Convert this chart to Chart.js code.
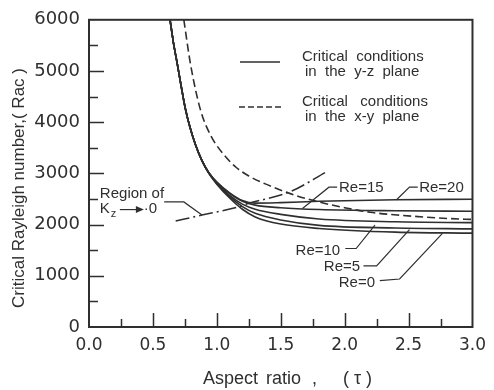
<!DOCTYPE html>
<html>
<head>
<meta charset="utf-8">
<script src="https://cdn.jsdelivr.net/npm/chart.js@4"></script>
<style>
  html, body { margin: 0; padding: 0; background: #fff; }
  #wrap { width: 494px; height: 390px; }
</style>
</head>
<body>
<div id="wrap"><canvas id="chart" width="494" height="390"></canvas></div>
<script>
// aspect ratio (tau) and critical Rayleigh number
let re20Tau = [0.634, 0.66, 0.691, 0.72, 0.755, 0.79, 0.833, 0.88, 0.936, 1.0, 1.1, 1.2, 1.3, 1.5, 1.8, 2.4, 3.0];
let re20Rac = [6000, 5560, 5135, 4720, 4250, 3900, 3560, 3270, 3019, 2830, 2620, 2470, 2420, 2430, 2455, 2485, 2495];

let re15Tau = [0.634, 0.66, 0.691, 0.72, 0.755, 0.79, 0.833, 0.88, 0.936, 1.0, 1.1, 1.2, 1.3, 1.5, 1.8, 2.4, 3.0];
let re15Rac = [6000, 5560, 5135, 4720, 4250, 3900, 3560, 3270, 3019, 2825, 2610, 2455, 2380, 2330, 2295, 2270, 2260];

let re10Tau = [0.634, 0.66, 0.691, 0.72, 0.755, 0.79, 0.833, 0.88, 0.936, 1.0, 1.1, 1.2, 1.3, 1.5, 1.8, 2.4, 3.0];
let re10Rac = [6000, 5560, 5135, 4720, 4250, 3900, 3560, 3270, 3015, 2810, 2570, 2400, 2300, 2200, 2110, 2055, 2038];

let re5Tau = [0.634, 0.66, 0.691, 0.72, 0.755, 0.79, 0.833, 0.88, 0.936, 1.0, 1.1, 1.2, 1.3, 1.5, 1.8, 2.4, 3.0];
let re5Rac = [6000, 5560, 5135, 4720, 4250, 3900, 3560, 3270, 3010, 2800, 2545, 2350, 2220, 2090, 1985, 1935, 1917];

let re0Tau = [0.634, 0.66, 0.691, 0.72, 0.755, 0.79, 0.833, 0.88, 0.936, 1.0, 1.1, 1.2, 1.3, 1.5, 1.8, 2.4, 3.0];
let re0Rac = [6000, 5560, 5135, 4720, 4250, 3900, 3560, 3270, 3005, 2790, 2520, 2300, 2150, 2010, 1925, 1853, 1833];

// critical conditions in the x-y plane (dashed)
let xyTau = [0.742, 0.794, 0.871, 0.95, 1.05, 1.15, 1.25, 1.374, 1.58, 1.786, 2.0, 2.2, 2.45, 2.8, 3.0];
let xyRac = [6000, 5135, 4250, 3750, 3380, 3120, 2950, 2800, 2600, 2450, 2330, 2240, 2180, 2120, 2100];

// region of Kz -> 0 (dash-dot)
let kzTau = [0.678, 0.884, 1.168, 1.245, 1.58, 1.864];
let kzRac = [2071, 2186, 2346, 2410, 2648, 3040];

let yTicks = [0, 1000, 2000, 3000, 4000, 5000, 6000];
let xTicks = [0.0, 0.5, 1.0, 1.5, 2.0, 2.5, 3.0];

let ink = '#2f2f2f';
let sans = '"Liberation Sans", Arial, sans-serif';

function pts(xs, ys) {
    return xs.map(function (v, i) { return { x: v, y: ys[i] }; });
}

function curve(label, xs, ys, dash) {
    return {
        label: label,
        data: pts(xs, ys),
        borderColor: ink,
        borderWidth: 1.6,
        borderDash: dash || [],
        pointRadius: 0,
        fill: false,
        cubicInterpolationMode: 'monotone'
    };
}

// text notes with leader lines, in data units
let notes = [
    { text: 'Re=15', at: [1.956, 2712], path: [[1.941, 2731], [1.877, 2731], [1.670, 2313]] },
    { text: 'Re=20', at: [2.583, 2712], path: [[2.572, 2731], [2.507, 2731], [2.404, 2480]] },
    { text: 'Re=10', at: [1.616, 1494], path: [[2.005, 1533], [2.090, 1533], [2.237, 1990]] },
    { text: 'Re=5', at: [1.837, 1173], path: [[2.147, 1192], [2.250, 1192], [2.507, 1900]] },
    { text: 'Re=0', at: [1.954, 871], path: [[2.275, 904], [2.430, 937], [2.765, 1830]] },
    { text: 'Region of', at: [0.085, 2596], path: [[0.588, 2442], [0.742, 2442], [0.884, 2186]] }
];

let decor = {
    id: 'decor',
    afterDraw: function (chart) {
        let ctx = chart.ctx;
        let a = chart.chartArea;
        let xs = chart.scales.x, ys = chart.scales.y;
        ctx.save();
        ctx.strokeStyle = ink;
        ctx.fillStyle = ink;

        // frame
        ctx.lineWidth = 2;
        ctx.strokeRect(a.left, a.top, a.right - a.left, a.bottom - a.top);

        // inward ticks
        ctx.lineWidth = 1.5;
        ctx.beginPath();
        for (let v = 500; v < 6000; v += 500) {
            let py = Math.round(ys.getPixelForValue(v)) + 0.5;
            let len = v % 1000 === 0 ? 15 : 9;
            ctx.moveTo(a.left, py);
            ctx.lineTo(a.left + len, py);
        }
        for (let k = 1; k < 12; k++) {
            let v = k * 0.25;
            let px = Math.round(xs.getPixelForValue(v)) + 0.5;
            let len = k % 2 === 0 ? 14 : 8;
            ctx.moveTo(px, a.bottom);
            ctx.lineTo(px, a.bottom - len);
        }
        ctx.stroke();

        // notes
        ctx.font = '15px ' + sans;
        ctx.textBaseline = 'middle';
        ctx.textAlign = 'left';
        ctx.lineWidth = 1.2;
        notes.forEach(function (n) {
            ctx.fillText(n.text, xs.getPixelForValue(n.at[0]), ys.getPixelForValue(n.at[1]));
            ctx.beginPath();
            n.path.forEach(function (p, i) {
                let px = xs.getPixelForValue(p[0]), py = ys.getPixelForValue(p[1]);
                if (i === 0) ctx.moveTo(px, py); else ctx.lineTo(px, py);
            });
            ctx.stroke();
        });

        // K_z -> 0
        let kx = xs.getPixelForValue(0.085), ky = ys.getPixelForValue(2313);
        ctx.fillText('K', kx, ky);
        ctx.font = '11px ' + sans;
        ctx.fillText('z', kx + 11, ky + 5);
        ctx.beginPath();
        ctx.moveTo(kx + 20, ky + 1);
        ctx.lineTo(kx + 38, ky + 1);
        ctx.stroke();
        ctx.beginPath();
        ctx.moveTo(kx + 44, ky + 1);
        ctx.lineTo(kx + 36, ky - 2.5);
        ctx.lineTo(kx + 36, ky + 4.5);
        ctx.closePath();
        ctx.fill();
        ctx.font = '15px ' + sans;
        ctx.fillText('\u00b70', kx + 44, ky);

        // legend
        ctx.lineWidth = 1.5;
        ctx.beginPath();
        ctx.moveTo(240, 62);
        ctx.lineTo(280, 62);
        ctx.stroke();
        ctx.setLineDash([6, 3]);
        ctx.beginPath();
        ctx.moveTo(239, 107);
        ctx.lineTo(281, 107);
        ctx.stroke();
        ctx.setLineDash([]);
        ctx.font = '15px ' + sans;
        ctx.fillText('Critical  conditions', 302, 57);
        ctx.fillText('in  the  y-z  plane', 305, 72);
        ctx.fillText('Critical   conditions', 302, 102);
        ctx.fillText('in  the  x-y  plane', 305, 117);

        // axis titles
        ctx.font = '17px ' + sans;
        ctx.textAlign = 'center';
        ctx.save();
        ctx.translate(19, 188);
        ctx.rotate(-Math.PI / 2);
        ctx.fillText('Critical Rayleigh number,( Rac )', 0, 0);
        ctx.restore();
        ctx.font = '18px ' + sans;
        ctx.textAlign = 'left';
        ctx.fillText('Aspect', 203, 379);
        ctx.fillText('ratio', 266, 379);
        ctx.fillText(',', 312, 379);
        ctx.fillText('( \u03c4 )', 343, 379);
        ctx.restore();
    }
};

let chart = new Chart(document.getElementById('chart'), {
    type: 'line',
    data: {
        datasets: [
            curve('Re=20', re20Tau, re20Rac),
            curve('Re=15', re15Tau, re15Rac),
            curve('Re=10', re10Tau, re10Rac),
            curve('Re=5', re5Tau, re5Rac),
            curve('Re=0', re0Tau, re0Rac),
            curve('x-y plane', xyTau, xyRac, [8, 4]),
            curve('Kz -> 0', kzTau, kzRac, [14, 4, 2, 4])
        ]
    },
    options: {
        responsive: false,
        animation: false,
        layout: { padding: { top: 15, right: 17, left: 0, bottom: 0 } },
        plugins: {
            legend: { display: false },
            tooltip: { enabled: false }
        },
        scales: {
            x: {
                type: 'linear',
                min: 0,
                max: 3,
                afterFit: function (s) { s.height = 63; },
                afterBuildTicks: function (s) { s.ticks = xTicks.map(function (v) { return { value: v }; }); },
                grid: { display: false, drawTicks: false },
                border: { display: false },
                ticks: {
                    padding: 8,
                    color: ink,
                    font: { family: '"DejaVu Sans", sans-serif', size: 17 },
                    maxRotation: 0,
                    callback: function (v) { return Number(v).toFixed(1); }
                }
            },
            y: {
                min: 0,
                max: 6000,
                afterFit: function (s) { s.width = 89; },
                afterBuildTicks: function (s) { s.ticks = yTicks.map(function (v) { return { value: v }; }); },
                grid: { display: false, drawTicks: false },
                border: { display: false },
                ticks: {
                    padding: 9,
                    color: ink,
                    font: { family: '"DejaVu Sans", sans-serif', size: 18 },
                    callback: function (v) { return String(v); }
                }
            }
        }
    },
    plugins: [decor]
});
</script>
</body>
</html>
